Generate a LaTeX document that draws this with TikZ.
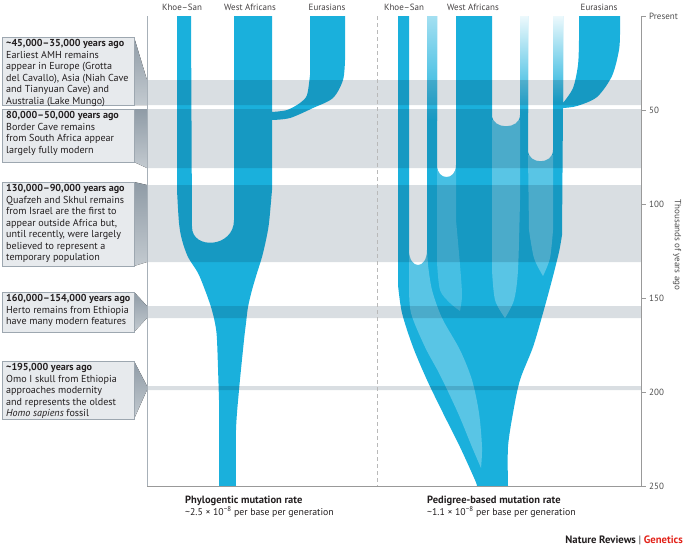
\documentclass[tikz,border=0pt]{standalone}
\usepackage{fontspec}
\setmainfont{PT Sans}
\definecolor{tblue}{HTML}{1AB0DC}
\definecolor{bandgray}{HTML}{D9DEE2}
\definecolor{boxfill}{HTML}{E7EAED}
\definecolor{boxline}{HTML}{9DA7B0}
\definecolor{ptrtop}{HTML}{8F9BA6}
\definecolor{ptrbot}{HTML}{C3CAD0}
\definecolor{linegray}{HTML}{A7B0B8}
\definecolor{txt}{HTML}{231F20}
\definecolor{axtxt}{HTML}{4D4D4D}
\definecolor{nrred}{HTML}{E2231A}
\tikzset{
 tree/.style={fill=tblue},
 ribbon/.style={fill=white, opacity=0.28},
 band/.style={fill=bandgray},
 cbox/.style={fill=boxfill, draw=boxline, line width=0.6pt},
 cptr/.style={top color=ptrtop, bottom color=ptrbot, draw=none},
 boxtext/.style={anchor=north west, inner sep=0pt, align=left, font=\fontsize{10.1}{11.5}\selectfont, text=txt},
 toplabel/.style={font=\fontsize{9}{10}\selectfont, text=txt!85},
 axlabel/.style={anchor=west, font=\fontsize{9}{10}\selectfont, text=axtxt, inner sep=0pt},
 axline/.style={draw=gray!80, line width=0.6pt},
}
\begin{document}
\begin{tikzpicture}[x=1pt,y=-1pt]
\useasboundingbox (0,0) rectangle (685,550);

% ---------- left tree (phylogenetic) ----------
\fill[tree] (177,16) -- (177,190)
  -- plot[smooth] coordinates {(177,190) (179,223) (182,240) (188,257) (198,273) (205,290) (211,307) (215,323) (217,340) (219,400)}
  -- (219,486) -- (236,486)
  -- plot[smooth] coordinates {(236,486) (236,430) (239,390) (244,340) (246,323) (248,307) (252,290) (257,273) (262,257) (266,240) (269,223) (272,190)}
  -- (272,120)
  -- plot[smooth] coordinates {(272,120) (290,118) (313,108) (333,98) (343,80) (345,60)}
  -- (345,16) -- (310,16) -- (310,75)
  -- plot[smooth] coordinates {(310,75) (307,95) (300,103) (287,110) (272,112)}
  -- (272,16) -- (234,16) -- (234,220)
  .. controls (234,248) and (192,250) .. (192,227)
  -- (191,16) -- cycle;

% ---------- right tree (pedigree) ----------
\fill[tree] (398,16) -- (398,285)
  -- plot[smooth] coordinates {(398,285) (402,313) (413,347) (427,380) (443,413) (460,447) (475,480) (477,486)}
  -- (508,486)
  -- plot[smooth] coordinates {(508,486) (508,447) (513,413) (520,380) (533,347) (543,313) (552,280) (559,252) (562,235)}
  -- (563,108)
  -- plot[smooth] coordinates {(563,108) (577,106) (597,97) (612,76) (619,50) (620,32)}
  -- (620,16) -- (579,16) -- (579,40)
  -- plot[smooth] coordinates {(579,40) (578,65) (573,88) (563,103)}
  -- (563,16) -- (553,16) -- (553,150)
  .. controls (553,165) and (528,165) .. (528,150)
  -- (528,16) -- (520,16) -- (520,115)
  .. controls (520,130) and (492,130) .. (492,115)
  -- (492,16) -- (456,16) -- (456,165)
  .. controls (456,181) and (437,181) .. (437,165)
  -- (437,16) -- (427,16) -- (427,250)
  .. controls (427,270) and (409,270) .. (409,250)
  -- (409,16) -- cycle;

% faded tops of minor lineages
\shade[top color=tblue!40!white, bottom color=tblue] (427,16) rectangle (437,120);
\shade[top color=tblue!8!white, bottom color=tblue] (520,16) rectangle (528,112);
\shade[top color=tblue!8!white, bottom color=tblue] (553,16) rectangle (563,102);

% lighter ribbons inside the trunk
\fill[ribbon] (409,250) -- (409,285)
  -- plot[smooth] coordinates {(409,285) (411,313) (425,347) (440,375) (458,413) (472,447) (481,468)}
  -- plot[smooth] coordinates {(481,468) (482,447) (479,413) (472,380) (460,350) (442,318) (432,290) (428,265)}
  -- (427,250) -- cycle;
\fill[ribbon, opacity=0.2] (437,170) -- (437,262)
  -- plot[smooth] coordinates {(437,262) (440,290) (450,303) (460,311)}
  -- plot[smooth] coordinates {(460,311) (462,295) (460,265) (456,220)}
  -- (456,170) -- cycle;
\fill[ribbon] (492,120) -- (492,270)
  -- plot[smooth] coordinates {(492,270) (495,300) (505,318)}
  -- plot[smooth] coordinates {(505,318) (514,300) (518,270) (520,200)}
  -- (520,120) -- cycle;
\fill[ribbon] (528,155) -- (529,230)
  -- plot[smooth] coordinates {(529,230) (534,258) (543,276)}
  -- plot[smooth] coordinates {(543,276) (550,258) (553,230)}
  -- (553,155) -- cycle;

% ---------- time bands ----------
\begin{scope}[blend mode=multiply]
\fill[band] (147,80) rectangle (641,105)
            (147,109) rectangle (641,168)
            (147,185) rectangle (641,262)
            (147,306) rectangle (641,318)
            (147,386) rectangle (641,390);
\end{scope}

% ---------- frame lines ----------
\draw[gray!55, line width=0.6pt, dash pattern=on 4pt off 3pt] (377,16) -- (377,486);
\draw[axline] (147,486) -- (641,486);
\draw[axline] (641,16) -- (641,486);
\foreach \yy in {16,110,204,298,392,486} \draw[axline] (641,\yy) -- (646,\yy);

% ---------- callout boxes ----------
\fill[cptr] (134,37) -- (147,80) -- (147,105) -- (134,105) -- cycle;
\fill[cptr] (134,109) -- (147,109) -- (147,168) -- (134,162) -- cycle;
\fill[cptr] (134,182) -- (147,185) -- (147,262) -- (134,266) -- cycle;
\fill[cptr] (134,292) -- (147,306) -- (147,318) -- (134,332) -- cycle;
\fill[cptr] (134,361) -- (147,386) -- (147,390) -- (134,419) -- cycle;
\draw[cbox] (2,37) rectangle (134,105);
\draw[cbox] (2,109) rectangle (134,162);
\draw[cbox] (2,182) rectangle (134,266);
\draw[cbox] (2,292) rectangle (134,332);
\draw[cbox] (2,361) rectangle (134,419);
\draw[linegray, line width=0.8pt] (147,16) -- (147,486);

\node[boxtext] (t1) at (6,39.5) {\textbf{\textasciitilde45,000–35,000 years ago}\\Earliest AMH remains\\appear in Europe (Grotta\\del Cavallo), Asia (Niah Cave\\and Tianyuan Cave) and\\Australia (Lake Mungo)};
\node[boxtext] (t2) at (6,111.5) {\textbf{80,000–50,000 years ago}\\Border Cave remains\\from South Africa appear\\largely fully modern};
\node[boxtext] (t3) at (6,184.5) {\textbf{130,000–90,000 years ago}\\Quafzeh and Skhul remains\\from Israel are the first to\\appear outside Africa but,\\until recently, were largely\\believed to represent a\\temporary population};
\node[boxtext] (t4) at (6,294.5) {\textbf{160,000–154,000 years ago}\\Herto remains from Ethiopia\\have many modern features};
\node[boxtext] (t5) at (6,363.5) {\textbf{\textasciitilde195,000 years ago}\\Omo I skull from Ethiopia\\approaches modernity\\and represents the oldest\\\textit{Homo sapiens} fossil};

% ---------- population labels ----------
\node[toplabel] (kl) at (182,7) {Khoe–San};
\node[toplabel] (wl) at (250,7) {West Africans};
\node[toplabel] (el) at (327,7) {Eurasians};
\node[toplabel] (kr) at (404,7) {Khoe–San};
\node[toplabel] (wr) at (473,7) {West Africans};
\node[toplabel] (er) at (599,7) {Eurasians};

% ---------- axis labels ----------
\node[axlabel] (a0) at (649,16) {Present};
\node[axlabel] (a50) at (649,110) {50};
\node[axlabel] (a100) at (649,204) {100};
\node[axlabel] (a150) at (649,298) {150};
\node[axlabel] (a200) at (649,392) {200};
\node[axlabel] (a250) at (649,486) {250};
\node[font=\fontsize{9}{10}\selectfont, text=axtxt, rotate=-90] (atitle) at (677,245) {Thousands of years ago};

% ---------- bottom labels ----------
\node[anchor=base west, inner sep=0pt, font=\fontsize{10.5}{12}\selectfont\bfseries, text=txt] (p1) at (185,503) {Phylogentic mutation rate};
\node[anchor=base west, inner sep=0pt, font=\fontsize{9.8}{12}\selectfont, text=txt] (p2) at (185,515) {\textasciitilde2.5 × 10\textsuperscript{−8} per base per generation};
\node[anchor=base west, inner sep=0pt, font=\fontsize{10.5}{12}\selectfont\bfseries, text=txt] (q1) at (427,503) {Pedigree-based mutation rate};
\node[anchor=base west, inner sep=0pt, font=\fontsize{9.8}{12}\selectfont, text=txt] (q2) at (427,515) {\textasciitilde1.1 × 10\textsuperscript{−8} per base per generation};
\node[anchor=base east, inner sep=0pt, font=\fontsize{10.7}{12}\selectfont\bfseries, text=txt] (nr) at (683,543) {Nature Reviews {\color{gray}|} {\color{nrred}Genetics}};
\end{tikzpicture}
\end{document}
